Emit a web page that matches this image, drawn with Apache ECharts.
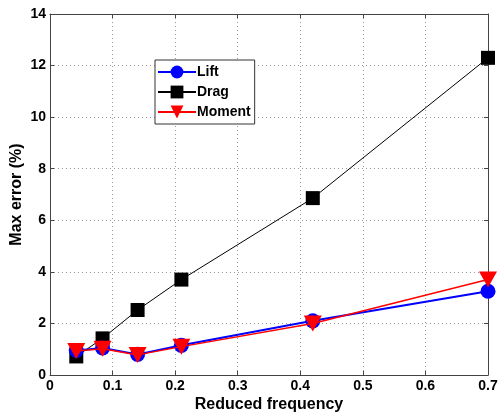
<!DOCTYPE html>
<html><head><meta charset="utf-8">
<script src="https://cdn.jsdelivr.net/npm/echarts@6/dist/echarts.min.js"></script>
<style>html,body{margin:0;padding:0;background:#fff}#c{width:500px;height:419px}</style>
</head><body><div id="c"></div>
<script>
const freq = [0.042, 0.084, 0.14, 0.21, 0.42, 0.7];
const lift = [0.95, 1.05, 0.8, 1.15, 2.1, 3.25];
const drag = [0.72, 1.42, 2.52, 3.7, 6.86, 12.3];
const moment = [0.93, 1.02, 0.78, 1.1, 2.0, 3.7];
const xTicks = [0, 0.1, 0.2, 0.3, 0.4, 0.5, 0.6, 0.7];
const yTicks = [0, 2, 4, 6, 8, 10, 12, 14];

const pts = a => freq.map((f, i) => [f, a[i]]);
const font = 'Liberation Sans, Arial, sans-serif';
const chart = echarts.init(document.getElementById('c'));
const axisCommon = {
  axisLine: {show: true, onZero: false, lineStyle: {color: '#444', width: 1}},
  axisTick: {show: true, inside: true, length: 4, lineStyle: {color: '#444'}},
};
chart.setOption({
  animation: false,
  backgroundColor: '#fff',
  grid: {left: 50, right: 12, top: 14, bottom: 44, containLabel: false, outerBoundsMode: 'none'},
  legend: {
    left: 155, top: 60, orient: 'vertical',
    backgroundColor: '#fff', borderColor: '#333', borderWidth: 1,
    padding: [5, 4, 5, 2], itemGap: 6, itemWidth: 38, itemHeight: 16,
    textStyle: {fontFamily: font, fontWeight: 'bold', fontSize: 14, color: '#000', padding: [0, 0, 0, -4]},
    data: ['Lift', 'Drag', 'Moment']
  },
  xAxis: [{
    type: 'value', min: xTicks[0], max: xTicks[xTicks.length - 1], interval: 0.1,
    ...axisCommon,
    axisLabel: {fontFamily: font, fontWeight: 'bold', fontSize: 14, color: '#000', margin: 4,
      formatter: v => String(+v.toFixed(1))},
    splitLine: {show: true, lineStyle: {color: '#999', type: [1, 3], width: 1}},
    name: 'Reduced frequency', nameLocation: 'middle', nameGap: 22, nameMoveOverlap: false,
    nameTextStyle: {fontFamily: font, fontWeight: 'bold', fontSize: 16, color: '#000'}
  }, {
    type: 'value', position: 'top', min: 0, max: 0.7, interval: 0.1,
    ...axisCommon, axisLabel: {show: false}, splitLine: {show: false}
  }],
  yAxis: [{
    type: 'value', min: yTicks[0], max: yTicks[yTicks.length - 1], interval: 2,
    ...axisCommon,
    axisLabel: {fontFamily: font, fontWeight: 'bold', fontSize: 14, color: '#000', margin: 4},
    splitLine: {show: true, lineStyle: {color: '#999', type: [1, 3], width: 1}},
    name: 'Max error (%)', nameLocation: 'middle', nameGap: 25, nameMoveOverlap: false,
    nameTextStyle: {fontFamily: font, fontWeight: 'bold', fontSize: 16, color: '#000'}
  }, {
    type: 'value', position: 'right', min: 0, max: 14, interval: 2,
    ...axisCommon, axisLabel: {show: false}, splitLine: {show: false}
  }],
  series: [
    {name: 'Drag', type: 'line', data: pts(drag), symbol: 'rect', symbolSize: 14,
      itemStyle: {color: '#000'}, lineStyle: {color: '#000', width: 1}, z: 2},
    {name: 'Lift', type: 'line', data: pts(lift), symbol: 'circle', symbolSize: 15,
      itemStyle: {color: '#0000ff'}, lineStyle: {color: '#0000ff', width: 2}, z: 3},
    {name: 'Moment', type: 'line', data: pts(moment), symbol: 'path://M0,0 L12,0 L6,11 Z', symbolSize: [18, 16],
      itemStyle: {color: '#ff0000'}, lineStyle: {color: '#ff0000', width: 1.5}, z: 4}
  ]
});
</script></body></html>
